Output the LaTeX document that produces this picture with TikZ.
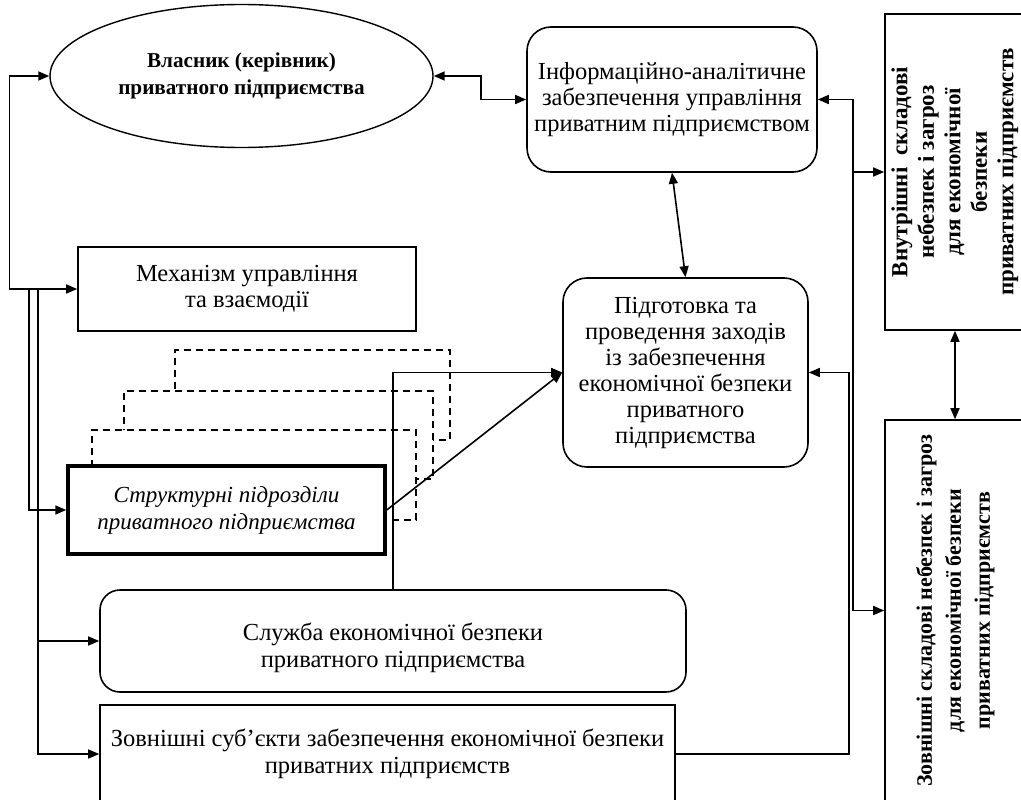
\documentclass[tikz,border=0pt]{standalone}
\usepackage{fontspec}
\setmainfont{Liberation Serif}
\usetikzlibrary{shapes.geometric,arrows.meta}

\begin{document}
\begin{tikzpicture}[x=1pt,y=-1pt]
\tikzset{
  every node/.style={font=\fontsize{24.5}{26}\selectfont, align=center, inner sep=0pt},
  box/.style={draw, line width=1.6pt, fill=white},
  roundbox/.style={box, rounded corners=24pt},
  ghost/.style={draw, fill=white, line width=1.3pt, dash pattern=on 7pt off 5pt},
  link/.style={line width=1.6pt, -{Triangle[length=11pt,width=9pt]}},
  dlink/.style={line width=1.6pt, {Triangle[length=11pt,width=9pt]}-{Triangle[length=11pt,width=9pt]}}
}
\useasboundingbox (0,0) rectangle (1021,800);
\clip (0,0) rectangle (1021,800);

\node[box, ellipse, line width=1.4pt, minimum width=383pt, minimum height=143pt,
  font=\bfseries\fontsize{21.2}{27}\selectfont] (owner) at (241.5,76) {Власник (керівник)\\приватного підприємства};
\node[roundbox, minimum width=290pt, minimum height=145pt] (info) at (672,99.5) {Інформаційно-аналітичне\\забезпечення управління\\приватним підприємством};
\node[box, minimum width=338pt, minimum height=84pt] (mech) at (247,289) {Механізм управління\\та взаємодії};
\node[roundbox, minimum width=245pt, minimum height=189pt] (prep) at (685.5,372.5) {Підготовка та\\проведення заходів\\із забезпечення\\економічної безпеки\\приватного\\підприємства};

% stacked units behind
\node[ghost, minimum width=275pt, minimum height=90pt] (unit3) at (312.5,395) {};
\node[ghost, minimum width=309pt, minimum height=88pt] (unit2) at (278.5,435) {};
\node[ghost, minimum width=324pt, minimum height=90pt] (unit1) at (254,475) {};
\node[box, line width=3.5pt, minimum width=317pt, minimum height=88pt,
  font=\itshape\fontsize{23}{27}\selectfont] (units) at (226.5,510) {Структурні підрозділи\\приватного підприємства};

\node[roundbox, rounded corners=20pt, minimum width=586pt, minimum height=102pt,
  font=\fontsize{24.5}{27}\selectfont] (service) at (393,641) {\rule{0pt}{31pt}Служба економічної безпеки\\приватного підприємства};
\node[box, minimum width=575pt, minimum height=98pt,
  font=\fontsize{24.5}{27}\selectfont] (extern) at (387.5,754) {Зовнішні суб’єкти забезпечення економічної безпеки\\приватних підприємств};

\node[box, minimum width=140pt, minimum height=316pt, font=\bfseries\fontsize{23}{26.5}\selectfont] (inner) at (955,172)
  {\rotatebox{90}{\begin{tabular}{@{}c@{}}Внутрішні\ \ складові\\небезпек і загроз\\для економічної\\безпеки\\приватних підприємств\end{tabular}}};
\node[box, minimum width=140pt, minimum height=381pt, font=\bfseries\fontsize{22}{29}\selectfont] (outer) at (955,610.5)
  {\rotatebox{90}{\begin{tabular}{@{}c@{}}Зовнішні складові небезпек і загроз\\для економічної безпеки\\приватних підприємств\end{tabular}}};

% left bus
\draw[dlink] (owner.west) -- ++(-40,0) |- (mech.west);
\coordinate (j1) at (29,289);
\coordinate (j2) at (38,289);
\draw[link] (j1) |- (units.west);
\draw[link] (j2) |- (service.west);
\draw[link] (j2) |- (extern.west);

% top and right
\draw[dlink] (owner.east) -- ++(47,0) |- (info.west);
\draw[dlink] (info.south) -- (prep.north);
\draw[dlink] (info.east) -- ++(35,0) |- (outer.west);
\coordinate (busR) at ([xshift=35pt]info.east);
\draw[link] (busR |- inner.west) -- (inner.west);
\draw[dlink] (inner.south) -- (outer.north);

% into preparation
\draw[link] (extern.east) -- ++(173,0) |- (prep.east);
\draw[link] (service.north) |- (prep.west);
\draw[link] (units.east) -- (prep.west);
\end{tikzpicture}
\end{document}
